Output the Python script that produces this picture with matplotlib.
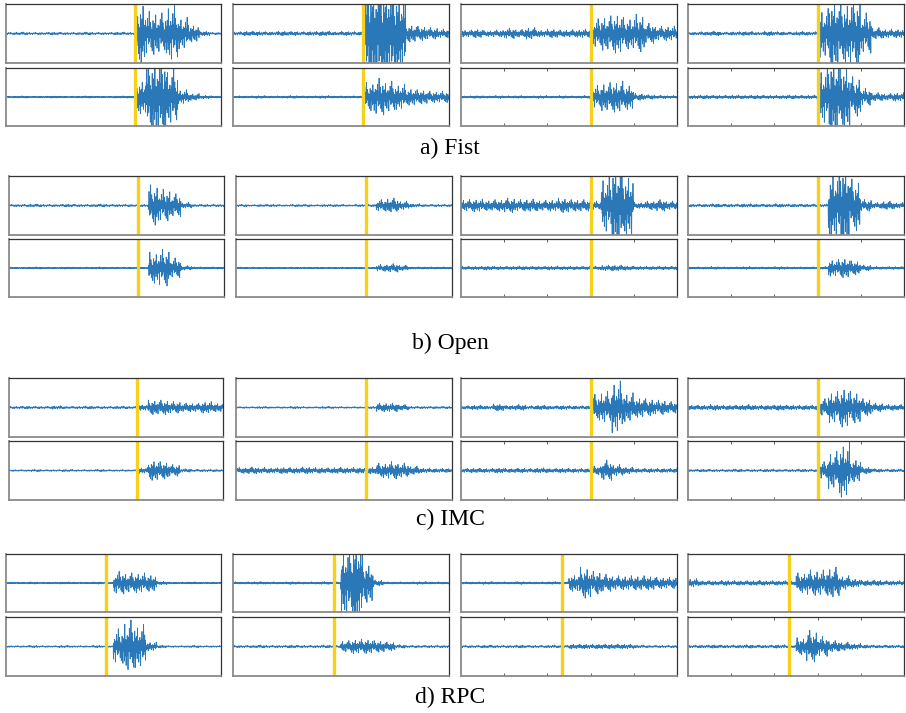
import numpy as np
import matplotlib
matplotlib.use("Agg")
import matplotlib.pyplot as plt

# envelope of each trace: 20 steps of 0.25 s over 0..5 s,
# order: row 1 col 1..4, then row 2 col 1..4 (peak, fraction of the half height)
fist_env = [
    [.04, .05, .04, .04, .05, .04, .04, .05, .04, .04, .05, .04, 1.1, .75, .70, 1.0, .55, .30, .08, .04],
    [.06, .08, .07, .06, .08, .07, .06, .07, .08, .06, .07, .06, 2.0, 2.0, 2.0, 1.6, .30, .25, .20, .15],
    [.12, .15, .10, .12, .18, .14, .20, .12, .15, .12, .13, .15, .50, .60, .70, .55, .65, .35, .25, .25],
    [.05, .06, .08, .05, .06, .07, .05, .08, .06, .05, .07, .06, .85, 1.3, 1.1, 1.3, .70, .20, .15, .15],
    [.03, .04, .03, .03, .04, .03, .03, .04, .03, .03, .04, .04, .60, 1.4, 1.5, 1.0, .25, .12, .06, .04],
    [.04, .04, .05, .04, .04, .05, .04, .04, .05, .04, .04, .04, .50, .65, .55, .45, .30, .25, .20, .20],
    [.04, .05, .04, .05, .04, .05, .04, .05, .04, .05, .04, .05, .40, .50, .55, .45, .12, .08, .06, .05],
    [.06, .07, .06, .06, .07, .06, .07, .06, .06, .07, .06, .07, 1.0, 1.5, 1.2, .70, .30, .15, .12, .15],
]
open_env = [
    [.04, .04, .05, .04, .04, .05, .04, .04, .05, .04, .04, .04, .04, .70, .55, .40, .10, .04, .04, .04],
    [.04, .03, .04, .04, .03, .04, .04, .03, .04, .04, .03, .04, .04, .20, .25, .15, .06, .04, .04, .04],
    [.20, .22, .18, .20, .25, .20, .22, .18, .20, .25, .20, .20, .15, 1.0, 1.6, 1.1, .10, .15, .20, .15],
    [.05, .05, .06, .05, .05, .06, .05, .05, .06, .05, .05, .05, .05, 1.2, 1.6, .90, .20, .10, .15, .10],
    [.03, .03, .04, .03, .03, .04, .03, .03, .04, .03, .03, .03, .03, .55, .65, .35, .08, .04, .04, .04],
    [.03, .03, .03, .03, .03, .03, .03, .03, .03, .03, .03, .03, .03, .12, .15, .10, .04, .04, .04, .04],
    [.06, .06, .07, .06, .06, .07, .06, .06, .07, .06, .06, .06, .06, .10, .10, .08, .06, .06, .06, .06],
    [.04, .04, .05, .04, .04, .05, .04, .04, .05, .04, .04, .04, .05, .30, .35, .25, .10, .05, .05, .05],
]
imc_env = [
    [.04, .05, .04, .04, .06, .04, .04, .05, .04, .04, .05, .04, .10, .25, .25, .20, .15, .15, .20, .15],
    [.03, .03, .04, .03, .03, .04, .03, .03, .04, .03, .03, .03, .04, .15, .15, .10, .04, .04, .04, .04],
    [.06, .08, .06, .12, .07, .10, .06, .08, .06, .07, .06, .06, .45, .55, .90, .50, .35, .30, .25, .20],
    [.08, .08, .10, .08, .08, .10, .08, .08, .10, .08, .08, .08, .30, .55, .70, .55, .30, .15, .10, .10],
    [.03, .03, .04, .03, .03, .04, .03, .03, .04, .03, .03, .03, .10, .35, .30, .20, .06, .04, .04, .04],
    [.10, .12, .10, .09, .11, .10, .12, .10, .09, .11, .10, .10, .12, .25, .30, .25, .15, .08, .07, .07],
    [.07, .08, .07, .09, .07, .08, .07, .09, .07, .08, .07, .07, .15, .35, .20, .12, .07, .07, .07, .07],
    [.04, .05, .04, .04, .05, .04, .04, .05, .04, .04, .05, .04, .30, .65, .95, .40, .12, .06, .05, .05],
]
rpc_env = [
    [.03, .03, .04, .03, .03, .04, .03, .03, .04, .03, .40, .35, .35, .30, .06, .03, .03, .04, .03, .03],
    [.04, .04, .05, .04, .04, .05, .04, .04, .05, .04, 1.3, 1.8, .70, .10, .04, .04, .04, .05, .04, .04],
    [.04, .04, .05, .04, .04, .05, .04, .04, .05, .04, .30, .55, .40, .30, .25, .25, .25, .25, .20, .20],
    [.15, .08, .08, .09, .08, .08, .09, .08, .08, .08, .35, .45, .45, .55, .25, .15, .10, .10, .08, .08],
    [.03, .03, .04, .03, .03, .04, .03, .03, .04, .03, .60, .90, .75, .15, .05, .03, .03, .04, .03, .03],
    [.04, .04, .05, .04, .04, .05, .04, .04, .05, .04, .20, .25, .25, .20, .15, .06, .04, .04, .04, .04],
    [.04, .04, .05, .04, .04, .05, .04, .04, .05, .04, .08, .08, .08, .08, .08, .08, .05, .04, .04, .04],
    [.05, .05, .06, .05, .05, .06, .05, .05, .06, .05, .30, .55, .35, .20, .15, .10, .06, .05, .05, .05],
]
cue_time = [3.0, 3.0, 3.0, 2.33]   # yellow onset marker, seconds
group_labels = ["a) Fist", "b) Open", "c) IMC", "d) RPC"]
group_env = [fist_env, open_env, imc_env, rpc_env]
tick_pos = [1, 2, 3, 4]

# fixed spiky oscillation shape used to fill the envelope
carrier = [0.22, -0.14, 0.41, -0.33, 0.08, -0.87, 0.27, -0.05, 0.36, -0.19, 0.68, -0.12, 0.16, -0.47, 0.31, -0.26,
           1.0, -0.38, 0.06, -0.21, 0.52, -0.09, 0.29, -0.62, 0.13, -0.31, 0.18, -0.79, 0.11, -0.43, 0.58, -0.17,
           0.24, -0.95, 0.35, -0.07, 0.45, -0.28, 0.12, -0.55, 0.84, -0.2, 0.04, -0.36, 0.26, -0.71, 0.15]

W, H = 906, 713
# panel boxes in pixels: (row tops/bottoms, column lefts/rights) per group
rows_px = [[(4, 63), (68, 126)], [(176, 235), (239, 297)], [(378, 437), (441, 500)], [(554, 612), (617, 676)]]
cols_px = [[(6, 221), (233, 449), (461, 677), (688, 904)],
           [(9, 224), (236, 452), (461, 677), (688, 904)],
           [(9, 223), (236, 452), (461, 677), (688, 904)],
           [(6, 221), (233, 449), (461, 677), (688, 904)]]
label_y = [148, 343, 519, 697]

BLUE = "#2a78b8"
GOLD = "#f7d117"
SAMPLES_PER_STEP = 40

fig = plt.figure(figsize=(W / 100, H / 100), dpi=100)

panel = 0
for g in range(4):
    for r in range(2):
        for c in range(4):
            top, bot = rows_px[g][r]
            left, right = cols_px[g][c]
            ax = fig.add_axes([left / W, 1 - bot / H, (right - left) / W, (bot - top) / H])
            env = np.repeat(group_env[g][r * 4 + c], SAMPLES_PER_STEP)
            n = len(env)
            t = np.linspace(0, 5, n, endpoint=False)
            wave = np.resize(np.roll(carrier, panel * 11), n)
            ax.plot(t, env * wave, color=BLUE, lw=0.6)
            ax.axvline(cue_time[g], color=GOLD, lw=2.4)
            ax.set_xlim(0, 5)
            ax.set_ylim(-1, 1)
            ax.set_yticks([])
            if r == 1 and c >= 2:
                ax.set_xticks(tick_pos)
                ax.tick_params(axis="x", direction="in", length=2.5, width=0.6, top=True,
                               labelbottom=False, colors="#444444")
            else:
                ax.set_xticks([])
            for side in ["top", "right"]:
                ax.spines[side].set_color("#333333")
                ax.spines[side].set_linewidth(0.9)
            for side in ["bottom", "left"]:
                ax.spines[side].set_color("#8a8a8a")
                ax.spines[side].set_linewidth(1.3)
            panel += 1
    fig.text(450 / W, 1 - label_y[g] / H, group_labels[g], ha="center", va="center",
             family="Liberation Serif", fontsize=17)

fig.savefig("out.png", dpi=100)
